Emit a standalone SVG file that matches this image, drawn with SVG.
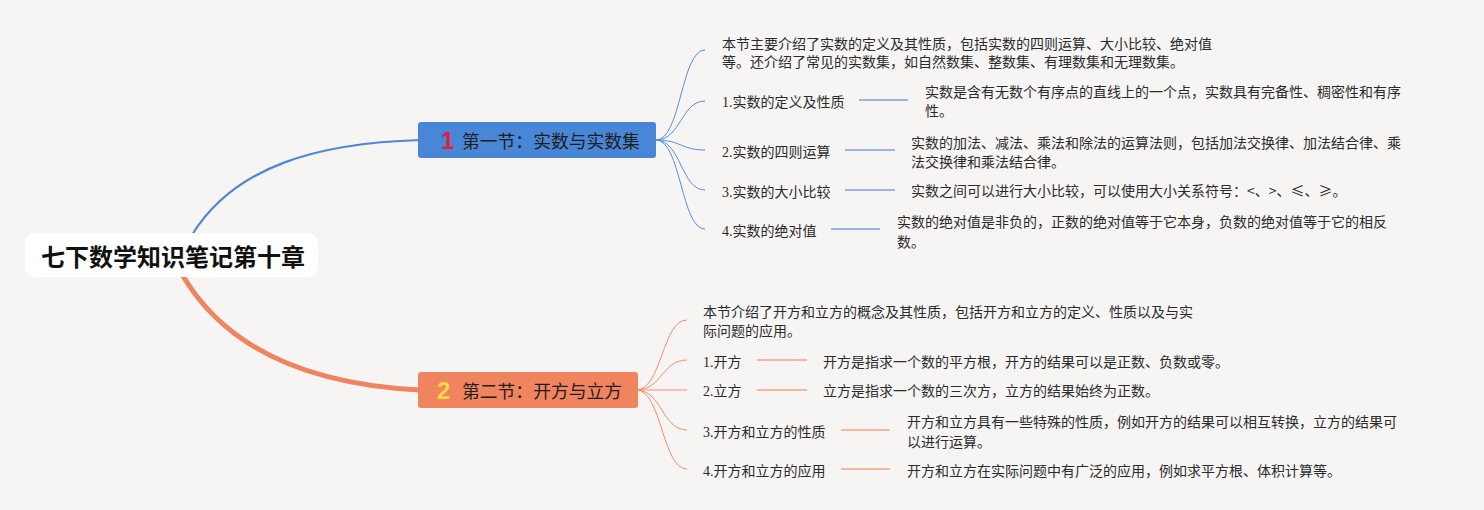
<svg xmlns="http://www.w3.org/2000/svg" width="1484" height="510" viewBox="0 0 1484 510">
<style>
.t{font-family:"Liberation Serif","Noto Sans CJK SC",serif;font-size:14px;fill:#2b2b2b}
.d{font-family:"Noto Sans CJK SC","Liberation Sans",sans-serif;font-size:14px;fill:#2b2b2b}
.sec{font-family:"Noto Sans CJK SC",sans-serif;font-size:17.8px;fill:#1e1e1e}
.num{font-family:"Liberation Sans","Noto Sans CJK SC",sans-serif;font-size:24px;font-weight:bold}
.b{fill:none;stroke:#5a8ed6;stroke-width:1}
.bs{fill:none;stroke:#9ab6de;stroke-width:2}
.o{fill:none;stroke:#f0906c;stroke-width:1}
.os{fill:none;stroke:#f3b8a2;stroke-width:2}
</style>
<rect width="1484" height="510" fill="#f6f5f4"/>
<g id="connectors">
<path d="M192,235 C235,165 320,143 420,140" fill="none" stroke="#4f86d4" stroke-width="2.2"/>
<path d="M183,276 C230,355 320,385 420,390" fill="none" stroke="#ee8460" stroke-width="5"/>
<path class="b" d="M656,140 C681,140 681,50 705,50"/>
<path class="b" d="M656,140 C681,140 681,101 705,101"/>
<path class="b" d="M656,140 C681,140 681,150 705,150"/>
<path class="b" d="M656,140 C681,140 681,190 705,190"/>
<path class="b" d="M656,140 C681,140 681,229 705,229"/>
<path class="bs" d="M859,100 H908"/>
<path class="bs" d="M845,150 H895"/>
<path class="bs" d="M845,190 H895"/>
<path class="bs" d="M831,229 H880"/>
<path class="o" d="M636,390 C662,390 662,320 687,320"/>
<path class="o" d="M636,390 C662,390 662,360 687,360"/>
<path class="o" d="M636,390 H687"/>
<path class="o" d="M636,390 C662,390 662,430 687,430"/>
<path class="o" d="M636,390 C662,390 662,469 687,469"/>
<path class="os" d="M757,360 H807"/>
<path class="os" d="M757,390 H807"/>
<path class="os" d="M841,430 H890"/>
<path class="os" d="M841,469 H890"/>
</g>
<g id="root">
<rect x="25" y="233" width="293" height="44" rx="10" fill="#ffffff"/>
<text x="173" y="266" text-anchor="middle" font-family="Noto Sans CJK SC,sans-serif" font-size="24" font-weight="bold" fill="#111">七下数学知识笔记第十章</text>
</g>
<g id="sec1">
<rect x="418" y="122" width="238" height="36" rx="3" fill="#4a86d6"/>
<text class="num" x="441" y="149" fill="#e01f3a">1</text>
<text class="sec" x="462" y="147.5">第一节：实数与实数集</text>
</g>
<g id="sec1-summary"><text class="d" x="722" y="49">本节主要介绍了实数的定义及其性质，包括实数的四则运算、大小比较、绝对值</text><text class="d" x="722" y="67">等。还介绍了常见的实数集，如自然数集、整数集、有理数集和无理数集。</text></g>
<g id="s1-1"><text class="t" x="722" y="107">1.实数的定义及性质</text></g>
<g id="s1-1d"><text class="d" x="925" y="97">实数是含有无数个有序点的直线上的一个点，实数具有完备性、稠密性和有序</text><text class="d" x="925" y="116">性。</text></g>
<g id="s1-2"><text class="t" x="722" y="157">2.实数的四则运算</text></g>
<g id="s1-2d"><text class="d" x="911" y="148">实数的加法、减法、乘法和除法的运算法则，包括加法交换律、加法结合律、乘</text><text class="d" x="911" y="167">法交换律和乘法结合律。</text></g>
<g id="s1-3"><text class="t" x="722" y="197">3.实数的大小比较</text></g>
<g id="s1-3d"><text class="d" x="911" y="196">实数之间可以进行大小比较，可以使用大小关系符号：&lt;、&gt;、≤、≥。</text></g>
<g id="s1-4"><text class="t" x="722" y="236">4.实数的绝对值</text></g>
<g id="s1-4d"><text class="d" x="897" y="227">实数的绝对值是非负的，正数的绝对值等于它本身，负数的绝对值等于它的相反</text><text class="d" x="897" y="247">数。</text></g>
<g id="sec2">
<rect x="418" y="372" width="220" height="36" rx="3" fill="#f0845e"/>
<text class="num" x="437" y="399" fill="#f6d84a">2</text>
<text class="sec" x="462" y="397.5">第二节：开方与立方</text>
</g>
<g id="sec2-summary"><text class="d" x="703" y="317">本节介绍了开方和立方的概念及其性质，包括开方和立方的定义、性质以及与实</text><text class="d" x="703" y="336">际问题的应用。</text></g>
<g id="s2-1"><text class="t" x="703" y="367">1.开方</text></g>
<g id="s2-1d"><text class="d" x="823" y="367">开方是指求一个数的平方根，开方的结果可以是正数、负数或零。</text></g>
<g id="s2-2"><text class="t" x="703" y="396">2.立方</text></g>
<g id="s2-2d"><text class="d" x="823" y="396">立方是指求一个数的三次方，立方的结果始终为正数。</text></g>
<g id="s2-3"><text class="t" x="703" y="437">3.开方和立方的性质</text></g>
<g id="s2-3d"><text class="d" x="907" y="427">开方和立方具有一些特殊的性质，例如开方的结果可以相互转换，立方的结果可</text><text class="d" x="907" y="447">以进行运算。</text></g>
<g id="s2-4"><text class="t" x="703" y="476">4.开方和立方的应用</text></g>
<g id="s2-4d"><text class="d" x="907" y="476">开方和立方在实际问题中有广泛的应用，例如求平方根、体积计算等。</text></g>
</svg>
